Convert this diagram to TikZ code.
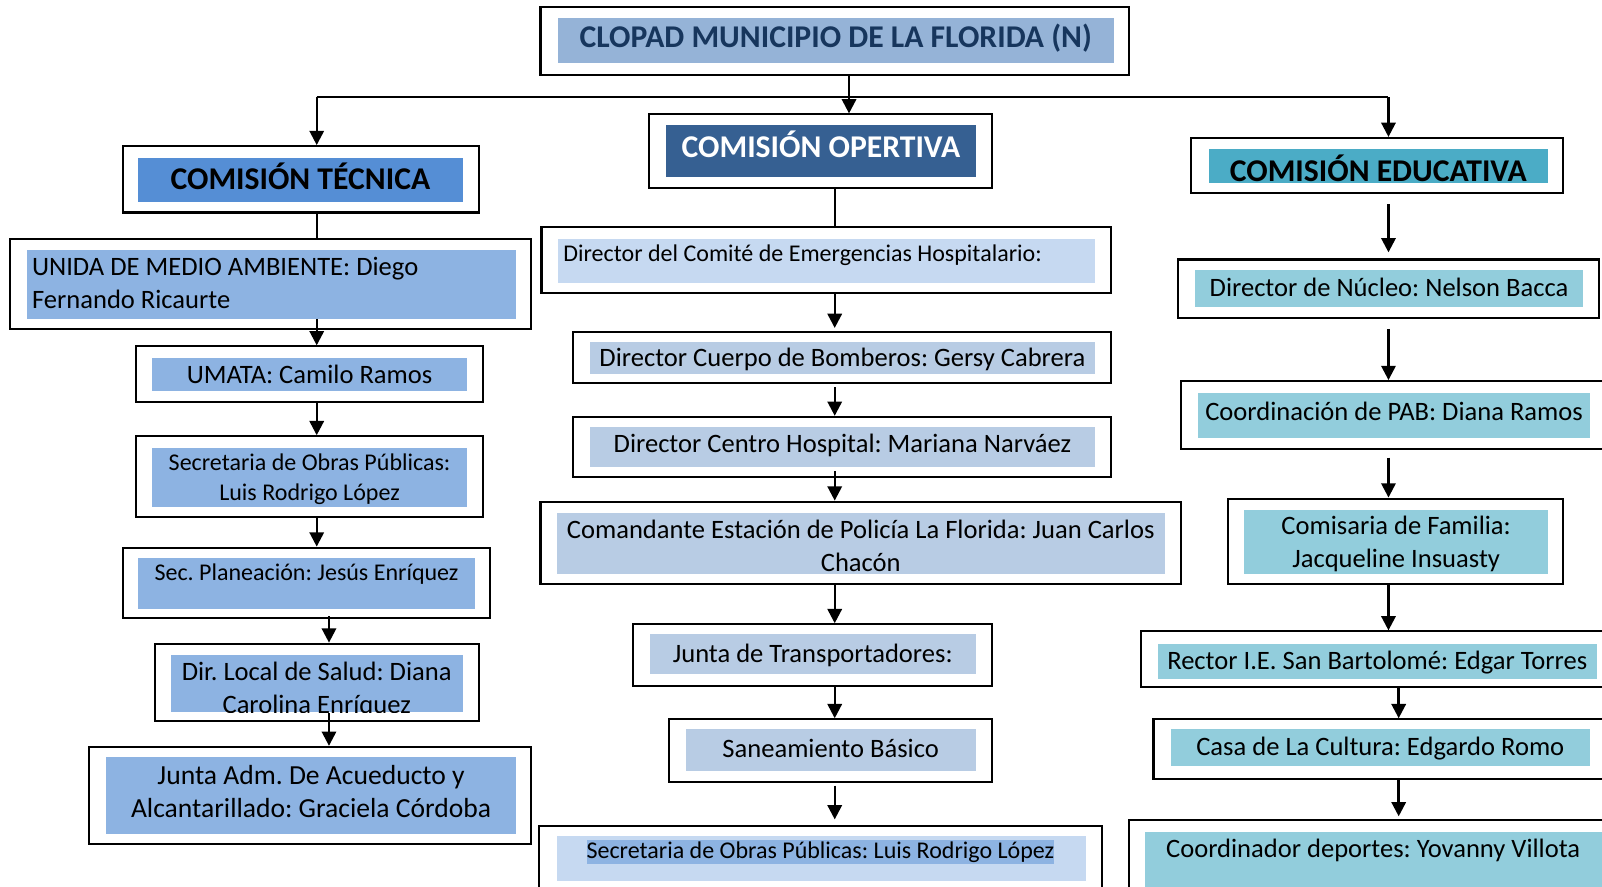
\documentclass[tikz,border=0pt]{standalone}
\usepackage{fontspec}
\setmainfont{Carlito}
\usepackage{tikz}
\usepackage{xcolor}
\usetikzlibrary{calc,
	positioning,
	fit,
	arrows.meta}
\frenchspacing
\definecolor{navy}{HTML}{17365D}
\definecolor{topBlue}{HTML}{95B3D7}
\definecolor{tecBlue}{HTML}{558ED5}
\definecolor{opBlue}{HTML}{366092}
\definecolor{eduCyan}{HTML}{4BACC6}
\definecolor{leftBlue}{HTML}{8DB3E2}
\definecolor{midBlue}{HTML}{B8CCE4}
\definecolor{paleBlue}{HTML}{C6D9F1}
\definecolor{rightCyan}{HTML}{92CDDC}
\tikzstyle{bx}=[draw, line width=1pt, inner sep=0]
\tikzstyle{fl}=[inner sep=0]
\tikzstyle{tx}=[inner sep=0, align=center, font=\fontsize{13}{16}\selectfont]
\tikzstyle{sm}=[inner sep=0, align=center, font=\fontsize{11.75}{15}\selectfont]
\tikzstyle{hd}=[inner sep=0, font=\fontsize{15.5}{19}\selectfont\bfseries]
\tikzstyle{arr}=[-{Triangle[length=7pt,width=7pt]}, line width=1.2pt]
\tikzstyle{ln}=[line width=1.2pt]

\begin{document}
\begin{tikzpicture}[x=0.5pt, y=-0.5pt]
    \clip (0,0) rectangle (1568,868);
    \fill[white] (0,0) rectangle (1568,868);
    % cabecera y comisiones
    \node[bx, fit={(529,7) (1105,73)}] (clopad) {};
    \node[fl, fill=topBlue, fit={(546,18) (1090,62)}] (clopadF) {};
    \node[hd, text=navy] (clopadT) at ($(clopadF)+(0,-3)$) {CLOPAD MUNICIPIO DE LA FLORIDA (N)};
    \node[bx, fit={(120,143) (469,208)}] (tec) {};
    \node[fl, fill=tecBlue, fit={(135,155) (453,198)}] (tecF) {};
    \node[hd] (tecT) at ($(tecF)+(0,-4)$) {COMISIÓN TÉCNICA};
    \node[bx, fit={(635,112) (971,184)}] (opt) {};
    \node[fl, fill=opBlue, fit={(652,122) (955,173)}] (optF) {};
    \node[hd, text=white] (optT) at ($(optF)+(0,-6)$) {COMISIÓN OPERTIVA};
    \node[bx, fit={(1166,135) (1530,189)}] (edu) {};
    \node[fl, fill=eduCyan, fit={(1183,146) (1515,179)}] (eduF) {};
    \node[hd] (eduT) at ($(eduF)+(0,2)$) {COMISIÓN EDUCATIVA};
    % columna tecnica
    \node[bx, fit={(10,234) (520,322)}] (unida) {};
    \node[fl, fill=leftBlue, fit={(26,245) (505,312)}] (unidaF) {};
    \node[tx, anchor=west, align=left] (unidaT) at (31,277) {UNIDA DE MEDIO AMBIENTE: Diego\\Fernando Ricaurte};
    \node[bx, fit={(133,339) (473,393)}] (umata) {};
    \node[fl, fill=leftBlue, fit={(149,350) (457,383)}] (umataF) {};
    \node[tx] (umataT) at (umataF) {UMATA: Camilo Ramos};
    \node[bx, fit={(133,427) (473,506)}] (secop) {};
    \node[fl, fill=leftBlue, fit={(149,438) (457,496)}] (secopF) {};
    \node[sm] (secopT) at ($(secopF)+(0,2)$) {Secretaria de Obras Públicas:\\Luis Rodrigo López};
    \node[bx, fit={(120,536) (480,605)}] (plan) {};
    \node[fl, fill=leftBlue, fit={(135,546) (465,596)}] (planF) {};
    \node[sm] (planT) at (300,562) {Sec. Planeación: Jesús Enríquez};
    \node[bx, fit={(152,630) (469,706)}] (salud) {};
    \node[fl, fill=leftBlue, fit={(167,641) (453,697)}] (saludF) {};
    \begin{scope}
        \clip (167,641) rectangle (453,697);
        \node[tx] (saludT) at (310,675) {Dir. Local de Salud: Diana\\Carolina Enríquez};
    \end{scope}
    \node[bx, fit={(87,731) (520,826)}] (junta) {};
    \node[fl, fill=leftBlue, fit={(104,741) (505,816)}] (juntaF) {};
    \node[tx, font=\fontsize{13.5}{16}\selectfont] (juntaT) at ($(juntaF)+(0,-4)$) {Junta Adm. De Acueducto y\\Alcantarillado: Graciela Córdoba};
    % columna operativa
    \node[bx, fit={(530,222) (1087,287)}] (comite) {};
    \node[fl, fill=paleBlue, fit={(546,234) (1072,277)}] (comiteF) {};
    \node[sm, anchor=west] (comiteT) at (551,250) {Director del Comité de Emergencias Hospitalario:};
    \node[bx, fit={(561,325) (1087,375)}] (bomb) {};
    \node[fl, fill=midBlue, fit={(577,335) (1072,366)}] (bombF) {};
    \node[tx] (bombT) at ($(bombF)+(0,1)$) {Director Cuerpo de Bomberos: Gersy Cabrera};
    \node[bx, fit={(561,408) (1087,467)}] (hosp) {};
    \node[fl, fill=midBlue, fit={(577,418) (1072,457)}] (hospF) {};
    \node[tx] (hospT) at ($(hospF)+(0,-2)$) {Director Centro Hospital: Mariana Narváez};
    \node[bx, fit={(529,491) (1156,572)}] (poli) {};
    \node[fl, fill=midBlue, fit={(545,502) (1140,562)}] (poliF) {};
    \node[tx] (poliT) at ($(poliF)+(0,2)$) {Comandante Estación de Policía La Florida: Juan Carlos\\Chacón};
    \node[bx, fit={(620,611) (971,671)}] (trans) {};
    \node[fl, fill=midBlue, fit={(636,621) (955,660)}] (transF) {};
    \node[tx] (transT) at ($(transF)+(0,1)$) {Junta de Transportadores:};
    \node[bx, fit={(655,704) (971,765)}] (san) {};
    \node[fl, fill=midBlue, fit={(671,714) (955,755)}] (sanF) {};
    \node[tx] (sanT) at ($(sanF)+(0,-2)$) {Saneamiento Básico};
    \node[bx, fit={(528,808) (1079,890)}] (secob) {};
    \node[fl, fill=paleBlue, fit={(545,818) (1063,862)}] (secobF) {};
    \node[sm, fill=leftBlue, inner ysep=0.5pt, text height=8.5pt, text depth=2.5pt] (secobT) at (803,834) {Secretaria de Obras Públicas: Luis Rodrigo López};
    % columna educativa
    \node[bx, fit={(1153,254) (1565,311)}] (nucleo) {};
    \node[fl, fill=rightCyan, fit={(1170,264) (1549,300)}] (nucleoF) {};
    \node[tx] (nucleoT) at ($(nucleoF)+(0,-1)$) {Director de Núcleo: Nelson Bacca};
    \node[bx, fit={(1156,373) (1590,439)}] (pab) {};
    \node[fl, fill=rightCyan, fit={(1173,385) (1556,429)}] (pabF) {};
    \node[tx] (pabT) at ($(pabF)+(0,-4)$) {Coordinación de PAB: Diana Ramos};
    \node[bx, fit={(1202,488) (1530,572)}] (comis) {};
    \node[fl, fill=rightCyan, fit={(1218,499) (1515,562)}] (comisF) {};
    \node[tx] (comisT) at ($(comisF)+(0,2)$) {Comisaria de Familia:\\Jacqueline Insuasty};
    \node[bx, fit={(1117,618) (1590,672)}] (rector) {};
    \node[fl, fill=rightCyan, fit={(1133,630) (1563,665)}] (rectorF) {};
    \node[tx] (rectorT) at ($(rectorF)+(0,1)$) {Rector I.E. San Bartolomé: Edgar Torres};
    \node[bx, fit={(1129,704) (1590,762)}] (casa) {};
    \node[fl, fill=rightCyan, fit={(1146,714) (1556,750)}] (casaF) {};
    \node[tx] (casaT) at ($(casaF)+(0,1)$) {Casa de La Cultura: Edgardo Romo};
    \node[bx, fit={(1105,803) (1590,890)}] (coord) {};
    \node[fl, fill=rightCyan, fit={(1121,814) (1590,890)}] (coordF) {};
    \node[tx] (coordT) at (1344,832) {Coordinador deportes: Yovanny Villota};
    % conectores
    \coordinate (axL) at (310,0);
    \coordinate (axL2) at (322,0);
    \coordinate (axT) at (831,0);
    \coordinate (axM) at (817,0);
    \coordinate (axR) at (1359,0);
    \coordinate (axR2) at (1369,0);
    \coordinate (busL) at (310,95);
    \coordinate (busR) at (1359,95);
    \draw[ln] (busL) -- (busR);
    \draw[arr] (clopad.south -| axT) -- (opt.north -| axT);
    \draw[arr] (busL) -- (tec.north -| busL);
    \draw[arr] (busR) -- (edu.north -| busR);
    \draw[ln] (tec.south -| axL) -- (unida.north -| axL);
    \draw[arr, shorten <=-5.5pt] (unida.south -| axL) -- (umata.north -| axL);
    \draw[arr] (umata.south -| axL) -- (secop.north -| axL);
    \draw[arr] (secop.south -| axL) -- (plan.north -| axL);
    \draw[arr, shorten <=-1.5pt] (plan.south -| axL2) -- (salud.north -| axL2);
    \draw[arr, shorten <=-4.5pt] (salud.south -| axL2) -- (junta.north -| axL2);
    \draw[ln] (opt.south -| axM) -- (comite.north -| axM);
    \draw[arr, shorten <=-1pt, shorten >=1.5pt] (comite.south -| axM) -- (bomb.north -| axM);
    \draw[arr, shorten <=1.5pt] (bomb.south -| axM) -- (hosp.north -| axM);
    \draw[arr, shorten <=-3.5pt] (hosp.south -| axM) -- (poli.north -| axM);
    \draw[arr] (poli.south -| axM) -- (trans.north -| axM);
    \draw[arr] (trans.south -| axM) -- (san.north -| axM);
    \draw[arr, shorten <=1.5pt, shorten >=2.5pt] (san.south -| axM) -- (secob.north -| axM);
    \draw[arr, shorten <=5pt, shorten >=3pt] (edu.south -| axR) -- (nucleo.north -| axR);
    \draw[arr, shorten <=5pt] (nucleo.south -| axR) -- (pab.north -| axR);
    \draw[arr, shorten <=4pt] (pab.south -| axR) -- (comis.north -| axR);
    \draw[arr] (comis.south -| axR) -- (rector.north -| axR);
    \draw[arr] (rector.south -| axR2) -- (casa.north -| axR2);
    \draw[arr, shorten >=1.5pt] (casa.south -| axR2) -- (coord.north -| axR2);
\end{tikzpicture}
\end{document}
